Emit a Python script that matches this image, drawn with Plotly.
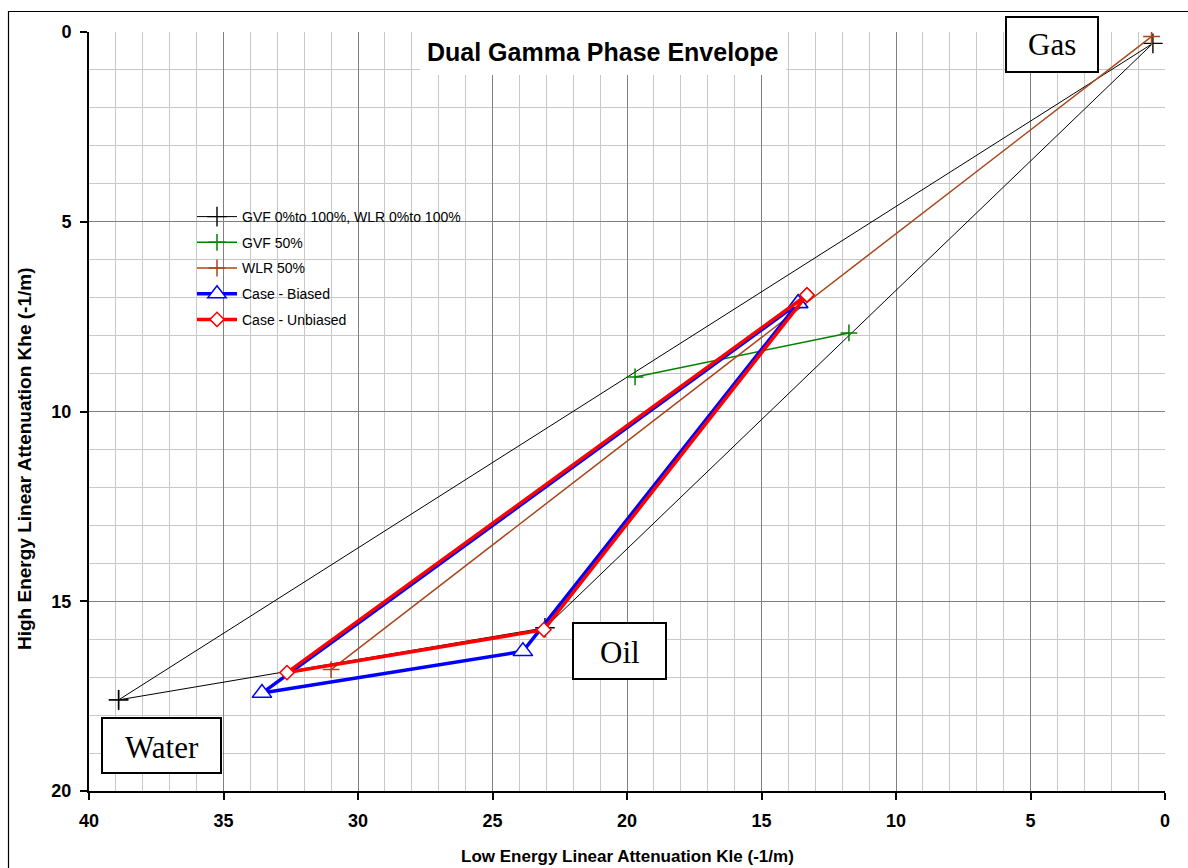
import plotly.graph_objects as go

# ---------------- data ----------------
env_x = [38.9, 23.05, 0.45, 38.9]      # Water -> Oil -> Gas -> Water
env_y = [17.6, 15.7, 0.3, 17.6]
gvf50_x = [19.7, 11.75]
gvf50_y = [9.09, 7.93]
wlr50_x = [31.0, 0.5]
wlr50_y = [16.8, 0.12]
biased_x = [13.64, 23.87, 33.57, 13.64]
biased_y = [7.15, 16.32, 17.42, 7.15]
unbiased_x = [13.31, 23.09, 32.64, 13.31]
unbiased_y = [6.93, 15.75, 16.88, 6.93]

series_names = ["GVF 0%to 100%, WLR 0%to 100%", "GVF 50%", "WLR 50%",
                "Case - Biased", "Case - Unbiased"]
x_ticks = [40, 35, 30, 25, 20, 15, 10, 5, 0]
y_ticks = [0, 5, 10, 15, 20]

# ---------------- layout helpers ----------------
W, H = 1188, 868
L, R, T, B = 89, 1165, 32, 791


def px(xp):
    return (xp - L) / (R - L)


def py(yp):
    return (B - yp) / (B - T)


SANS = "Liberation Sans, Arial, sans-serif"
SERIF = "Liberation Serif, Times New Roman, serif"
BROWN = "#A8461C"

fig = go.Figure()

fig.add_trace(go.Scatter(
    x=env_x, y=env_y, name=series_names[0], mode="lines+markers",
    line=dict(color="black", width=1),
    marker=dict(symbol="cross-thin", size=14, line=dict(color="black", width=1.4)),
    legendgroup="a"))
fig.add_trace(go.Scatter(
    x=gvf50_x, y=gvf50_y, name=series_names[1], mode="lines+markers",
    line=dict(color="#008000", width=1.5),
    marker=dict(symbol="cross-thin", size=12, line=dict(color="#008000", width=1.5)),
    legendgroup="b"))
fig.add_trace(go.Scatter(
    x=wlr50_x, y=wlr50_y, name=series_names[2], mode="lines+markers",
    line=dict(color=BROWN, width=1.5),
    marker=dict(symbol="cross-thin", size=12, line=dict(color=BROWN, width=1.5)),
    legendgroup="c"))
fig.add_trace(go.Scatter(
    x=biased_x, y=biased_y, name=series_names[3], mode="lines+markers",
    line=dict(color="#0000FF", width=3.5),
    marker=dict(symbol="triangle-up", size=17, color="white",
                line=dict(color="#0000FF", width=1.5)),
    legendgroup="d"))
fig.add_trace(go.Scatter(
    x=unbiased_x, y=unbiased_y, name=series_names[4], mode="lines+markers",
    line=dict(color="#FF0000", width=3.5),
    marker=dict(symbol="diamond", size=11, color="white",
                line=dict(color="#FF0000", width=1.5)),
    legendgroup="e"))

axis_common = dict(
    showgrid=True, gridcolor="#808080", gridwidth=1,
    minor=dict(dtick=1, showgrid=True, gridcolor="#c8c8c8", gridwidth=1, ticks=""),
    showline=True, linecolor="black", linewidth=2,
    ticks="outside", ticklen=7, tickcolor="black", tickwidth=1.5,
    tickfont=dict(family=SANS, size=18, color="black", weight="bold"),
    zeroline=False, dtick=5, tick0=0,
)

fig.update_xaxes(range=[40, 0], tickvals=x_ticks, ticklabelstandoff=5, **axis_common)
fig.update_yaxes(range=[20, 0], tickvals=y_ticks, ticklabelstandoff=5, **axis_common)

shapes = []
# outer chart border
shapes.append(dict(type="rect", xref="paper", yref="paper",
                   x0=px(8.5), x1=px(1200), y0=py(11.5), y1=py(880),
                   line=dict(color="black", width=1.2), fillcolor="rgba(0,0,0,0)",
                   layer="above"))
# legend background (covers grid)
shapes.append(dict(type="rect", xref="paper", yref="paper",
                   x0=px(152), x1=px(478), y0=py(205), y1=py(333),
                   line=dict(width=0), fillcolor="white", layer="between"))
# title background
shapes.append(dict(type="rect", xref="paper", yref="paper",
                   x0=px(420), x1=px(786), y0=py(24), y1=py(75),
                   line=dict(width=0), fillcolor="white", layer="above"))
# phase label boxes
for (x0, y0, x1, y1) in [(1006, 17, 1098, 72), (573, 623, 666, 679), (102, 718, 221, 773)]:
    shapes.append(dict(type="rect", xref="paper", yref="paper",
                       x0=px(x0), x1=px(x1), y0=py(y0), y1=py(y1),
                       line=dict(color="black", width=2), fillcolor="white",
                       layer="above"))


def ann(text, x, y, font, **kw):
    return dict(text=text, xref="paper", yref="paper", x=px(x), y=py(y),
                showarrow=False, xanchor="center", yanchor="middle", font=font, **kw)


annotations = [
    ann("<b>Dual Gamma Phase Envelope</b>", 603, 52, dict(family=SANS, size=25, color="black")),
    ann("Gas", 1052, 45, dict(family=SERIF, size=31, color="black")),
    ann("Oil", 619.5, 652, dict(family=SERIF, size=31, color="black")),
    ann("Water", 161.5, 747, dict(family=SERIF, size=31, color="black")),
    ann("<b>Low Energy Linear Attenuation Kle (-1/m)</b>", 627, 856,
        dict(family=SANS, size=17, color="black")),
    ann("<b>High Energy Linear Attenuation Khe (-1/m)</b>", 25, 459,
        dict(family=SANS, size=19, color="black"), textangle=-90),
]

fig.update_layout(
    width=W, height=H,
    margin=dict(l=L, r=W - R, t=T, b=H - B, pad=0),
    paper_bgcolor="white", plot_bgcolor="white",
    showlegend=True,
    legend=dict(x=px(192), y=py(201), xanchor="left", yanchor="top",
                bgcolor="rgba(0,0,0,0)", borderwidth=0,
                font=dict(family=SANS, size=14, color="black"),
                itemwidth=40, traceorder="grouped", tracegroupgap=4.5),
    shapes=shapes,
    annotations=annotations,
)

fig.write_html("out.html")
